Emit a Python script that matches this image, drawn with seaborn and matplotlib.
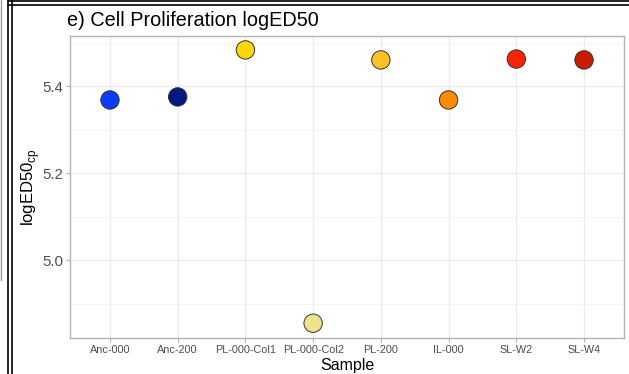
import matplotlib
matplotlib.use("Agg")
import matplotlib.pyplot as plt
import seaborn as sns
import pandas as pd
from matplotlib.lines import Line2D
from matplotlib.ticker import MultipleLocator

samples = ["Anc-000", "Anc-200", "PL-000-Col1", "PL-000-Col2", "PL-200", "IL-000", "SL-W2", "SL-W4"]
logED50 = [5.368, 5.375, 5.483, 4.855, 5.460, 5.368, 5.462, 5.460]
colors = ["#0a3df5", "#001a80", "#ffd700", "#efe38a", "#ffc125", "#ff8c00", "#ff2200", "#cc1a00"]
yticks = [5.0, 5.2, 5.4]

df = pd.DataFrame({"Sample": samples, "logED50": logED50})

sns.set_theme(style="white")
plt.rcParams['font.family'] = ['Liberation Sans', 'DejaVu Sans']

fig = plt.figure(figsize=(6.29, 3.74), dpi=100)
ax = fig.add_axes([70/629, 36/374, 554/629, 302/374])

sns.scatterplot(data=df, x="Sample", y="logED50", hue="Sample", palette=colors,
                s=175, edgecolor="#333333", linewidth=0.7, legend=False, ax=ax, zorder=3)

ax.set_xlim(-0.59, 7.59)
ax.set_ylim(4.821, 5.515)
ax.set_yticks(yticks)
ax.set_yticklabels([f"{v:.1f}" for v in yticks])
ax.yaxis.set_minor_locator(MultipleLocator(0.1))
ax.set_axisbelow(True)
ax.grid(True, which="major", color="#ebebeb", linewidth=0.9)
ax.grid(True, which="minor", axis="y", color="#f2f2f2", linewidth=0.6)
for sp in ax.spines.values():
    sp.set_color("#b3b3b3")
    sp.set_linewidth(1.0)
ax.tick_params(axis="both", which="major", length=3, width=0.8, color="#b3b3b3", direction="out",
               bottom=True, left=True)
ax.tick_params(axis="y", which="minor", length=0)
ax.tick_params(axis="y", labelsize=10.8, labelcolor="#4d4d4d", pad=2)
ax.tick_params(axis="x", labelsize=7.8, labelcolor="#4d4d4d", pad=2)

ax.set_xlabel("Sample", fontsize=11.5, color="black", labelpad=2)
ax.set_ylabel("logED50$_{\\mathregular{cp}}$", fontsize=12, color="black", labelpad=0)
fig.text(67/629, 1 - 20/374, "e) Cell Proliferation logED50", fontsize=14.3, va="center", ha="left", color="black")

# outer frame decorations
fig.add_artist(Line2D([0.8/629, 0.8/629], [1 - 280/374, 1.0], color="#999999", linewidth=1.0, transform=fig.transFigure))
for xp in (8/629, 12/629):
    fig.add_artist(Line2D([xp, xp], [0, 1], color="black", linewidth=1.2, transform=fig.transFigure))
for yp in (1 - 1.2/374, 1 - 4.5/374):
    fig.add_artist(Line2D([8/629, 1], [yp, yp], color="black", linewidth=1.2, transform=fig.transFigure))

fig.savefig("out.png", dpi=100)
